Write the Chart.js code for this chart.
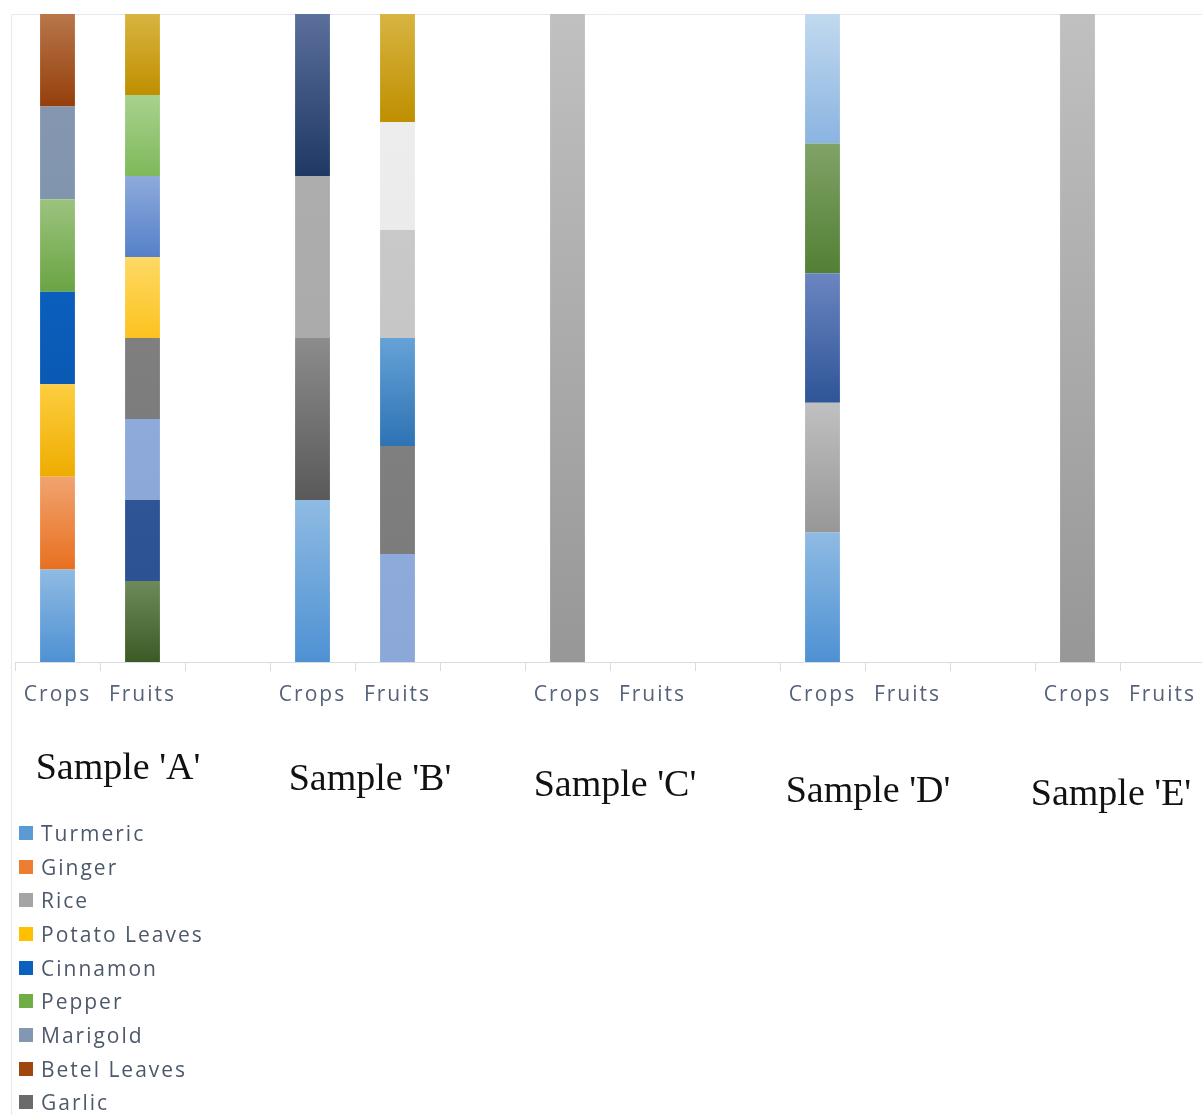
<!DOCTYPE html>
<html>
<head>
<meta charset="utf-8">
<script src="https://cdn.jsdelivr.net/npm/chart.js@4.4.1/dist/chart.umd.min.js"></script>
<style>
  html, body { margin: 0; padding: 0; background: #fff; overflow: hidden; }
  #wrap { position: relative; width: 1202px; height: 1115px; overflow: hidden; }
  #chart { position: absolute; left: 0; top: 0; }
  #legend { position: absolute; left: 19px; top: 816px; font-family: "Open Sans"; font-size: 21px;
            letter-spacing: 2px; color: #4d596b; }
  .item { display: flex; align-items: center; height: 33.7px; white-space: nowrap; }
  .sw { width: 14px; height: 14px; margin-right: 8px; flex: none; }
</style>
</head>
<body>
<div id="wrap">
  <canvas id="chart" width="1215" height="1115"></canvas>
  <div id="legend"></div>
</div>
<script>
// categories: Crops / Fruits per sample, with an empty gap column between samples
const categories = ['Crops', 'Fruits', '', 'Crops', 'Fruits', '', 'Crops', 'Fruits', '',
                    'Crops', 'Fruits', '', 'Crops', 'Fruits']
const samples = ["Sample 'A'", "Sample 'B'", "Sample 'C'", "Sample 'D'", "Sample 'E'"]

// one share per segment seen in a bar (bars are 100% stacked)
//                     A         B         C         D         E
const turmeric     = [1, 0, 0,  1, 0, 0,  0, 0, 0,  1, 0, 0,  0, 0]
const ginger       = [1, 0, 0,  0, 0, 0,  0, 0, 0,  0, 0, 0,  0, 0]
const rice         = [0, 0, 0,  0, 0, 0,  1, 0, 0,  1, 0, 0,  1, 0]
const potatoLeaves = [1, 0, 0,  0, 0, 0,  0, 0, 0,  0, 0, 0,  0, 0]
const cinnamon     = [1, 0, 0,  0, 0, 0,  0, 0, 0,  0, 0, 0,  0, 0]
const pepper       = [1, 0, 0,  0, 0, 0,  0, 0, 0,  0, 0, 0,  0, 0]
const marigold     = [1, 0, 0,  0, 0, 0,  0, 0, 0,  0, 0, 0,  0, 0]
const betelLeaves  = [1, 0, 0,  0, 0, 0,  0, 0, 0,  0, 0, 0,  0, 0]
const garlic       = [0, 0, 0,  1, 0, 0,  0, 0, 0,  0, 0, 0,  0, 0]
// series whose legend entries fall below the visible area
const crop10 = [0, 0, 0,  1, 0, 0,  0, 0, 0,  0, 0, 0,  0, 0]
const crop11 = [0, 0, 0,  1, 0, 0,  0, 0, 0,  0, 0, 0,  0, 0]
const crop12 = [0, 0, 0,  0, 0, 0,  0, 0, 0,  1, 0, 0,  0, 0]
const crop13 = [0, 0, 0,  0, 0, 0,  0, 0, 0,  1, 0, 0,  0, 0]
const crop14 = [0, 0, 0,  0, 0, 0,  0, 0, 0,  1, 0, 0,  0, 0]
const fruit1  = [0, 1, 0,  0, 0, 0,  0, 0, 0,  0, 0, 0,  0, 0]
const fruit2  = [0, 1, 0,  0, 0, 0,  0, 0, 0,  0, 0, 0,  0, 0]
const fruit3  = [0, 1, 0,  0, 1, 0,  0, 0, 0,  0, 0, 0,  0, 0]
const fruit4  = [0, 1, 0,  0, 1, 0,  0, 0, 0,  0, 0, 0,  0, 0]
const fruit5  = [0, 1, 0,  0, 0, 0,  0, 0, 0,  0, 0, 0,  0, 0]
const fruit6  = [0, 1, 0,  0, 0, 0,  0, 0, 0,  0, 0, 0,  0, 0]
const fruit7  = [0, 1, 0,  0, 0, 0,  0, 0, 0,  0, 0, 0,  0, 0]
const fruit8  = [0, 0, 0,  0, 1, 0,  0, 0, 0,  0, 0, 0,  0, 0]
const fruit9  = [0, 0, 0,  0, 1, 0,  0, 0, 0,  0, 0, 0,  0, 0]
const fruit10 = [0, 0, 0,  0, 1, 0,  0, 0, 0,  0, 0, 0,  0, 0]
const fruit11 = [0, 1, 0,  0, 1, 0,  0, 0, 0,  0, 0, 0,  0, 0]

// [label, values, top colour, bottom colour, legend colour]
const series = [
    ['Turmeric', turmeric, '#8fbbe3', '#4e91d3', '#5b9bd5'],
    ['Ginger', ginger, '#f1a370', '#e8701f', '#ed7d31'],
    ['Rice', rice, '#c0c0c0', '#979797', '#a5a5a5'],
    ['Potato Leaves', potatoLeaves, '#fdce40', '#eeac00', '#ffc000'],
    ['Cinnamon', cinnamon, '#0b5ebc', '#0a5ab3', '#0a5fbf'],
    ['Pepper', pepper, '#9cc37e', '#6aa443', '#70ad47'],
    ['Marigold', marigold, '#8597b0', '#8295ae', '#8497b0'],
    ['Betel Leaves', betelLeaves, '#b8764a', '#953f0b', '#9e480e'],
    ['Garlic', garlic, '#8c8c8c', '#595959', '#6b6b6b'],
    ['', crop10, '#adadad', '#ababab', '#adadad'],
    ['', crop11, '#5b6f9b', '#1f3864', '#2f4574'],
    ['', crop12, '#6b85c1', '#2e5597', '#3f63a6'],
    ['', crop13, '#80a267', '#528034', '#5f8c40'],
    ['', crop14, '#c2d9ef', '#8ab4e1', '#9dc3e6'],
    ['', fruit1, '#6c8b58', '#3b5a26', '#4d6b36'],
    ['', fruit2, '#2f5597', '#2d5293', '#2f5597'],
    ['', fruit3, '#8eaadb', '#8ca8d9', '#8eaadb'],
    ['', fruit4, '#7f7f7f', '#7c7c7c', '#7f7f7f'],
    ['', fruit5, '#ffd966', '#fcc31f', '#ffd040'],
    ['', fruit6, '#8eaadb', '#5580c9', '#6e92d2'],
    ['', fruit7, '#a9d18e', '#7eb95a', '#92c574'],
    ['', fruit8, '#65a2d7', '#2e73b4', '#4a8bc6'],
    ['', fruit9, '#c9c9c9', '#c6c6c6', '#c9c9c9'],
    ['', fruit10, '#ededed', '#ebebeb', '#ededed'],
    ['', fruit11, '#d8b440', '#bf8f00', '#c9a020'],
]

const totals = categories.map((c, i) => series.reduce((s, row) => s + row[1][i], 0))

function shade(top, bottom) {
    return (c) => {
        if (c.type !== 'data') return bottom
        const chart = c.chart
        const ys = chart.scales.y
        if (!ys || !chart.chartArea) return bottom
        const i = c.dataIndex
        let from = 0
        for (let k = 0; k < c.datasetIndex; k++) from += chart.data.datasets[k].data[i]
        const to = from + chart.data.datasets[c.datasetIndex].data[i]
        const y0 = ys.getPixelForValue(to)
        const y1 = ys.getPixelForValue(from)
        if (!(y1 > y0)) return bottom
        const g = chart.ctx.createLinearGradient(0, y0, 0, y1)
        g.addColorStop(0, top)
        g.addColorStop(1, bottom)
        return g
    }
}

const datasets = series.map(([label, values, top, bottom, swatch]) => ({
    label: label,
    data: values.map((v, i) => totals[i] ? v / totals[i] * 100 : 0),
    backgroundColor: shade(top, bottom),
    swatch: swatch,
    borderWidth: 0,
    barPercentage: 0.41,
    categoryPercentage: 1,
}))

// where the sample captions sit under their pair of bars
const captionPos = [[118, 779], [370, 790], [615, 796], [868, 802], [1111, 805]]

const framePlugin = {
    id: 'frame',
    beforeDraw(chart) {
        const ctx = chart.ctx
        ctx.save()
        ctx.strokeStyle = '#e7e9f0'
        ctx.lineWidth = 1
        ctx.beginPath()
        ctx.moveTo(11.5, chart.height)
        ctx.lineTo(11.5, 14.5)
        ctx.lineTo(chart.width, 14.5)
        ctx.stroke()
        ctx.restore()
        ctx.letterSpacing = '2px'
    },
    afterDraw(chart) {
        const ctx = chart.ctx
        ctx.save()
        ctx.letterSpacing = '0px'
        ctx.font = '38px "Liberation Serif"'
        ctx.fillStyle = '#111'
        ctx.textAlign = 'center'
        ctx.textBaseline = 'alphabetic'
        samples.forEach((s, i) => ctx.fillText(s, captionPos[i][0], captionPos[i][1]))
        ctx.restore()
    }
}

const chart = new Chart(document.getElementById('chart').getContext('2d'), {
    type: 'bar',
    data: { labels: categories, datasets: datasets },
    options: {
        responsive: false,
        animation: false,
        devicePixelRatio: 1,
        layout: { padding: { left: 15, top: 14, right: 10, bottom: 403 } },
        plugins: { legend: { display: false }, tooltip: { enabled: false } },
        scales: {
            x: {
                stacked: true,
                afterFit: (scale) => { scale.height = 50 },
                grid: { offset: true, drawOnChartArea: false, drawTicks: true, tickLength: 9, color: '#d9dce3' },
                border: { display: true, color: '#d9dce3' },
                ticks: { color: '#56627a', font: { family: 'Open Sans', size: 21 }, padding: 11, maxRotation: 0, autoSkip: false }
            },
            y: { stacked: true, min: 0, max: 100, display: false }
        }
    },
    plugins: [framePlugin]
})

// legend list, one entry per row as in the original
const legend = document.getElementById('legend')
chart.data.datasets.filter(d => d.label).forEach(d => {
    const row = document.createElement('div')
    row.className = 'item'
    const sw = document.createElement('span')
    sw.className = 'sw'
    sw.style.background = d.swatch
    const txt = document.createElement('span')
    txt.textContent = d.label
    row.appendChild(sw)
    row.appendChild(txt)
    legend.appendChild(row)
})
</script>
</body>
</html>
